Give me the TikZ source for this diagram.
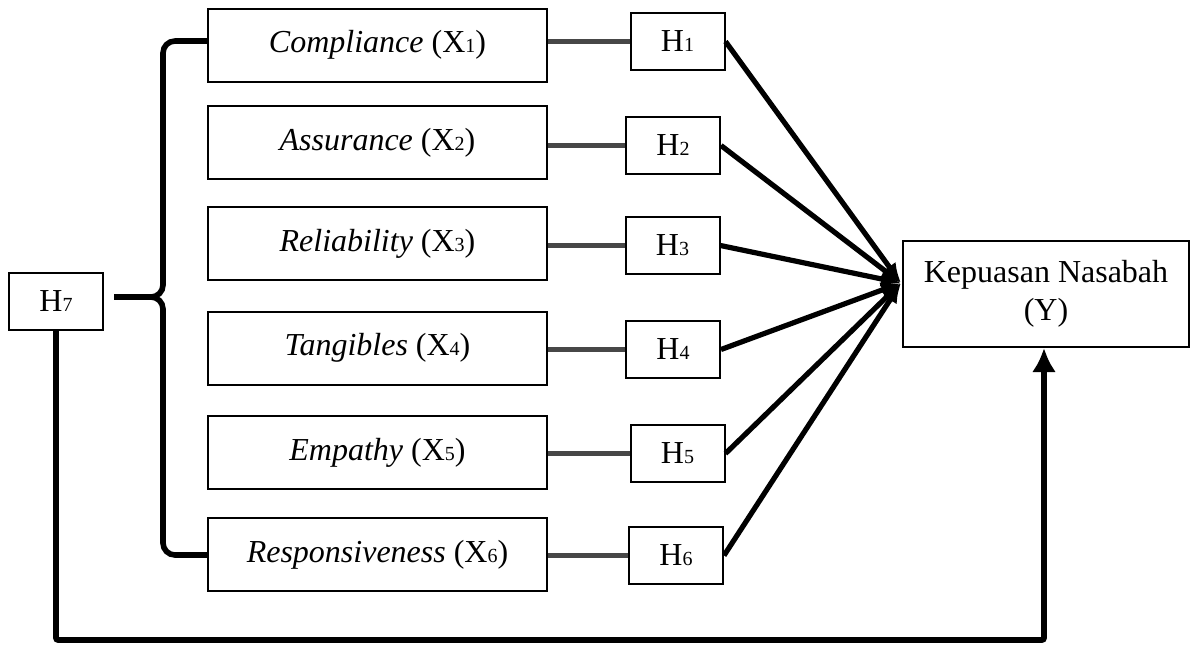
\documentclass[tikz,border=0pt]{standalone}
\usepackage{fontspec}
\setmainfont{Liberation Serif}
\usetikzlibrary{arrows.meta}
\newcommand\sbs[1]{{\fontsize{10}{10}\selectfont #1}}
\begin{document}
\begin{tikzpicture}[x=0.5pt,y=-0.5pt,
  every node/.style={font=\fontsize{16}{19}\selectfont},
  xbox/.style={draw,line width=1pt,minimum width=169.5pt,minimum height=36.5pt,inner sep=0pt},
  hbox/.style={draw,line width=1pt,minimum width=47pt,minimum height=28.5pt,inner sep=0pt},
  ybox/.style={draw,line width=1pt,minimum width=143pt,minimum height=53pt,inner sep=0pt,align=center},
  gline/.style={line width=2.8pt,black!72},
  thick line/.style={line width=2.8pt,black},
  arr/.style={line width=2.6pt,black,-{Latex[length=10pt,width=8pt]}},
  barr/.style={line width=2.8pt,black,-{Latex[length=12pt,width=12pt]}}]
\useasboundingbox (0,0) rectangle (1195,645);
% X boxes
\node[xbox] (X1) at (377.5,45) {\textit{Compliance} (X\sbs{1})};
\node[xbox] (X2) at (377.5,142.5) {\textit{Assurance} (X\sbs{2})};
\node[xbox] (X3) at (377.5,243.5) {\textit{Reliability} (X\sbs{3})};
\node[xbox] (X4) at (377.5,348) {\textit{Tangibles} (X\sbs{4})};
\node[xbox] (X5) at (377.5,452.5) {\textit{Empathy} (X\sbs{5})};
\node[xbox] (X6) at (377.5,554.5) {\textit{Responsiveness} (X\sbs{6})};
% H boxes
\node[hbox] (H1) at (677.5,41.5) {H\sbs{1}};
\node[hbox] (H2) at (673,145.5) {H\sbs{2}};
\node[hbox] (H3) at (672.5,245.5) {H\sbs{3}};
\node[hbox] (H4) at (673,349.5) {H\sbs{4}};
\node[hbox] (H5) at (677.5,453.5) {H\sbs{5}};
\node[hbox] (H6) at (676,555.5) {H\sbs{6}};
\node[hbox] (H7) at (56,301.5) {H\sbs{7}};
% Y box
\node[ybox] (Y) at (1046,294) {Kepuasan Nasabah\\(Y)};
\coordinate (conv) at (901,283);
\coordinate (tip) at (163,297);
% X -> H lines
\foreach \i in {1,...,6}{
  \draw[gline] (X\i.east |- H\i.west) -- (H\i.west);
}
% arrows to Y
\foreach \i in {1,...,6}{
  \draw[arr] (H\i.east) -- (conv);
}
% brace
\draw[thick line,rounded corners=6pt] (X1.west |- 0,41) -| (tip) -- ([xshift=5pt]H7.east |- tip);
\draw[thick line,rounded corners=6pt] (X6.west |- 0,555) -| (tip) -- ([xshift=5pt]H7.east |- tip);
% bottom loop
\draw[barr,rounded corners=1pt] (H7.south) -- (H7.south |- 0,640) -| ([xshift=-1pt]Y.south);
\end{tikzpicture}
\end{document}
